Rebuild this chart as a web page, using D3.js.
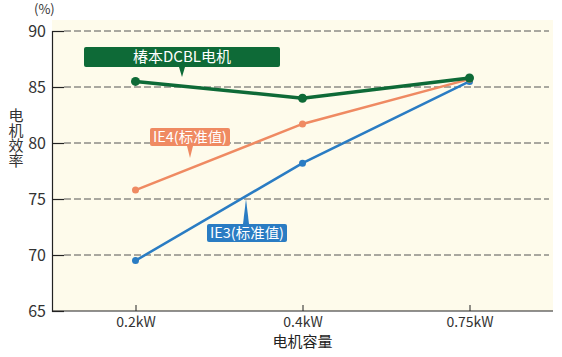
<!DOCTYPE html>
<html><head><meta charset="utf-8">
<script src="https://cdn.jsdelivr.net/npm/d3@7"></script>
<style>body{margin:0;background:#fff;} text{font-family:"Noto Sans CJK SC","Noto Sans",sans-serif;}</style>
</head><body><svg id="c" width="562" height="357"></svg>
<script>
const categories = ["0.2kW","0.4kW","0.75kW"];
const dcbl = [85.5, 84.0, 85.8];
const ie4 = [75.8, 81.7, 85.7];
const ie3 = [69.5, 78.2, 85.5];
const yTicks = [65,70,75,80,85,90];
const seriesNames = ["椿本DCBL电机","IE4(标准值)","IE3(标准值)"];

const svg = d3.select("#c");
const L=52, R=553, T=20, B=311;
const x = d3.scalePoint().domain(categories).range([L,R]).padding(0.5);
const y = d3.scaleLinear().domain([65,90]).range([B,31]);

svg.append("rect").attr("x",L).attr("y",T).attr("width",R-L).attr("height",B-T).attr("fill","#fefbeb");

// grid
svg.append("g").selectAll("line").data(yTicks.filter(d=>d>65)).join("line")
  .attr("x1",L+12).attr("x2",R-4).attr("y1",d=>y(d)).attr("y2",d=>y(d))
  .attr("stroke","#555").attr("stroke-width",1).attr("stroke-dasharray","7,3");

// y axis
const ya = svg.append("g").attr("transform",`translate(${L},0)`)
  .call(d3.axisLeft(y).tickValues(yTicks).tickSize(-12).tickPadding(18));
ya.select(".domain").attr("stroke","#222").attr("stroke-width",1.2);
ya.selectAll(".tick line").attr("stroke","#222").attr("stroke-width",1.2);
ya.selectAll(".tick text").attr("font-size",16).attr("fill","#333").attr("font-family","Roboto,Noto Sans,sans-serif").attr("x",-6);
// x axis
const xa = svg.append("g").attr("transform",`translate(0,${B})`)
  .call(d3.axisBottom(x).tickSize(-6).tickPadding(6).tickSizeOuter(0));
xa.select(".domain").attr("stroke","#222").attr("stroke-width",1.2).attr("d",`M${L},0H${R}`);
xa.selectAll(".tick line").attr("stroke","#222");
xa.selectAll(".tick text").attr("font-size",14).attr("fill","#333").attr("font-family","Roboto,Noto Sans,sans-serif");

svg.append("text").attr("x",L-18).attr("y",14).attr("font-size",13).attr("fill","#333").text("(%)");
svg.append("text").attr("x",x("0.4kW")).attr("y",347).attr("text-anchor","middle").attr("font-size",15).attr("fill","#222").text("电机容量");
svg.append("text").attr("x",16).attr("y",108).attr("font-size",15).attr("fill","#333")
  .style("writing-mode","vertical-rl").style("letter-spacing","0px").text("电机效率");

function series(vals,color,w,r){
  const data = categories.map((c,i)=>({c,v:vals[i]}));
  svg.append("path").datum(data).attr("fill","none").attr("stroke",color).attr("stroke-width",w)
    .attr("d",d3.line().x(d=>x(d.c)).y(d=>y(d.v)));
  svg.append("g").selectAll("circle").data(data).join("circle")
    .attr("cx",d=>x(d.c)).attr("cy",d=>y(d.v)).attr("r",r).attr("fill",color);
}
series(ie3,"#2a7cc3",2.5,3.5);
series(ie4,"#ef8a62",2.5,3.5);
series(dcbl,"#0e6a37",3.5,4.5);

function label(text,color,bx,by,bw,bh,px,tipY,fs,tl){
  const g=svg.append("g");
  const up = tipY<by;
  const base = up? by : by+bh;
  g.append("path").attr("d",`M${px-3},${base}L${px},${tipY}L${px+3},${base}Z`).attr("fill",color);
  g.append("rect").attr("x",bx).attr("y",by).attr("width",bw).attr("height",bh).attr("rx",2).attr("fill",color);
  const t=g.append("text").attr("x",bx+bw/2).attr("y",by+bh/2+fs*0.36).attr("text-anchor","middle").attr("font-size",fs).attr("fill","#fff").text(text);
  if(tl) t.attr("textLength",tl).attr("lengthAdjust","spacingAndGlyphs");
}
label(seriesNames[0],"#0e6a37",84,47,196,20,182,77,15);
label(seriesNames[1],"#ef8a62",150,128,80,18,190,158,14,74);
label(seriesNames[2],"#2a7cc3",207,224,80,18,246,199,14,74);
</script></body></html>
